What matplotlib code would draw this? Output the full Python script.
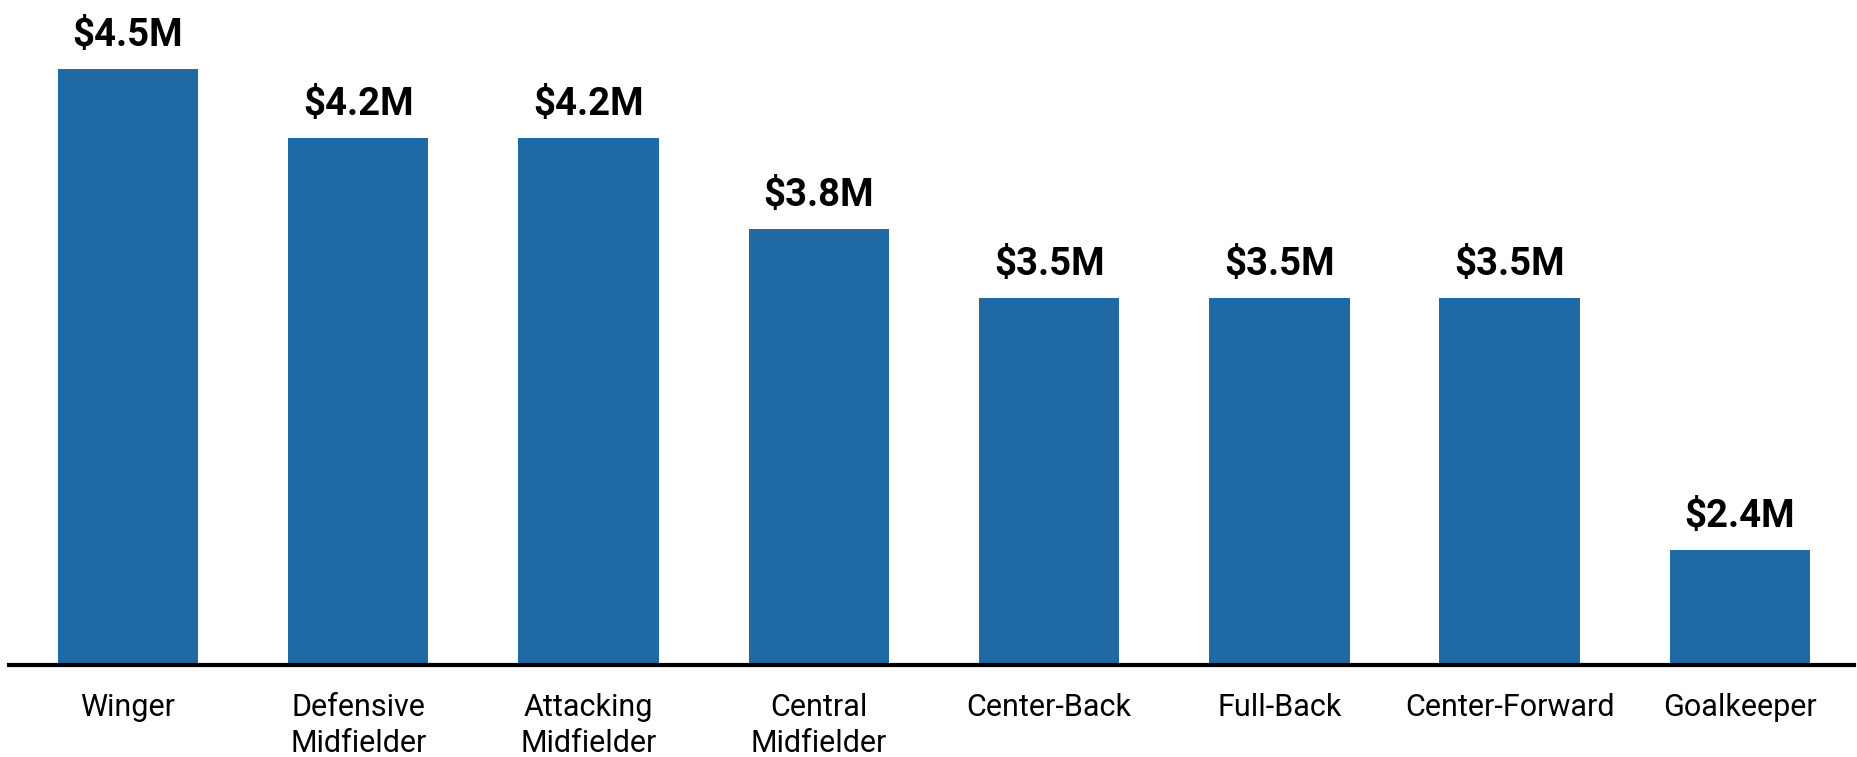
import matplotlib
matplotlib.use("Agg")
import matplotlib.pyplot as plt

positions = ["Winger", "Defensive\nMidfielder", "Attacking\nMidfielder", "Central\nMidfielder",
             "Center-Back", "Full-Back", "Center-Forward", "Goalkeeper"]
salaries_m = [4.5, 4.2, 4.2, 3.8, 3.5, 3.5, 3.5, 2.4]
value_labels = ["$4.5M", "$4.2M", "$4.2M", "$3.8M", "$3.5M", "$3.5M", "$3.5M", "$2.4M"]

plt.rcParams['font.family'] = ['Roboto', 'DejaVu Sans']

fig = plt.figure(figsize=(18.58, 7.57), dpi=100)
ax = fig.add_axes([0.0048, 0.1215, 0.993, 0.8785])

x = list(range(len(positions)))
bars = ax.bar(x, salaries_m, width=0.61, color="#1f6aa5", zorder=2)

for xi, v, lab in zip(x, salaries_m, value_labels):
    ax.annotate(lab, xy=(xi, v), xytext=(0, 16.5), textcoords="offset points",
                ha="center", va="baseline", fontsize=27.5, fontweight="bold", color="black")

ax.set_xlim(-0.517, 7.495)
ax.set_ylim(1.90, 4.80)
ax.set_xticks(x)
ax.set_xticklabels(positions, fontsize=22, color="black", linespacing=1.3)
ax.tick_params(axis="x", length=0, pad=20)
ax.set_yticks([])
for s in ["top", "right", "left"]:
    ax.spines[s].set_visible(False)
ax.spines["bottom"].set_linewidth(3.0)
ax.spines["bottom"].set_color("black")
ax.spines["bottom"].set_zorder(3)

fig.savefig("out.png", dpi=100)
